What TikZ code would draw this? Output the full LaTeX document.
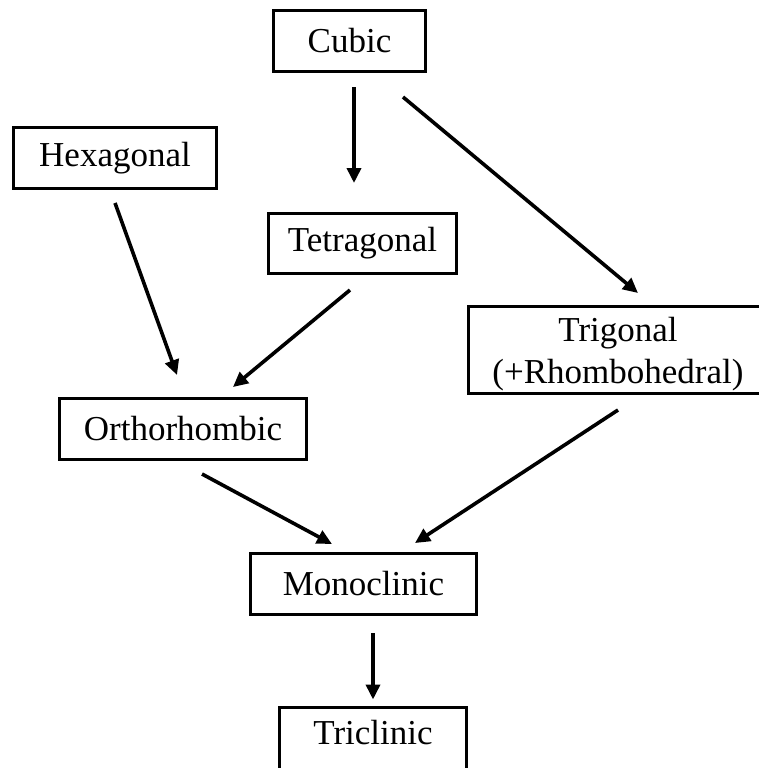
\documentclass[tikz,border=0pt]{standalone}
\usepackage{fontspec}
\setmainfont{Liberation Serif}
\usepackage{tikz}
\usetikzlibrary{arrows.meta, positioning, calc}

\begin{document}
\begin{tikzpicture}[x=1pt, y=-1pt]
	\tikzstyle{crystal}=[rectangle, draw=black, line width=3pt, inner sep=0pt, outer sep=0pt,
		minimum height=61pt, align=center, font=\fontsize{35}{42}\selectfont]
	\tikzstyle{arr}=[line width=3.6pt, -{Triangle[length=15pt, width=14pt]}]
	
	\useasboundingbox (0,0) rectangle (759,768);
	
	\node (cubic) at (349.5,41) [crystal, minimum width=152pt] {Cubic};
	\node (hex) at (115,158) [crystal, minimum width=203pt] {Hexagonal};
	\node (tetra) at (362.5,243.5) [crystal, minimum width=188pt, minimum height=60pt] {Tetragonal};
	% box runs off the right edge, text kept at x=618
	\node (trig) at (633.5,350) [crystal, minimum width=330pt, minimum height=87pt]
		{\rule{0pt}{32pt}Trigonal\hspace*{31pt}\\(+Rhombohedral)\hspace*{31pt}};
	\node (ortho) at (183,429) [crystal, minimum width=247pt] {Orthorhombic};
	\node (mono) at (363.5,584) [crystal, minimum width=226pt] {Monoclinic};
	% runs off the bottom edge
	\node (tricl) at (373,743) [crystal, minimum width=187pt, minimum height=71pt, text depth=22pt] {Triclinic};
	
	\draw[arr, shorten <=15.5pt, shorten >=30.5pt] ([xshift=4.5pt]cubic.south) -- ([xshift=-8.5pt]tetra.north);
	\draw[arr, shorten <=39.8pt, shorten >=21.1pt] ([xshift=22.9pt]cubic.south) -- ([xshift=20.7pt]trig.north);
	
	\draw[arr, shorten <=15.4pt, shorten >=25pt] ([xshift=-5.2pt]hex.south) -- ([xshift=2.5pt]ortho.north);
	\draw[arr, shorten <=25.9pt, shorten >=18pt] ([xshift=7.4pt]tetra.south) -- ([xshift=36.1pt]ortho.north);
	
	\draw[arr, shorten <=30.6pt, shorten >=20pt] ([xshift=-7.9pt]ortho.south) -- ([xshift=-13.9pt]mono.north);
	\draw[arr, shorten <=30.1pt, shorten >=19.1pt] ([xshift=9.7pt]trig.south) -- ([xshift=35.5pt]mono.north);
	
	\draw[arr, shorten <=18.5pt, shorten >=8pt] ([xshift=9.5pt]mono.south) -- (tricl.north);
\end{tikzpicture}
\end{document}
